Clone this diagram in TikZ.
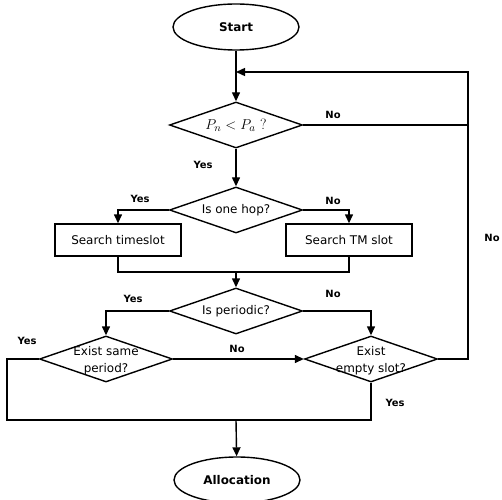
\documentclass[tikz,border=0pt]{standalone}
\usepackage{fontspec}
\setsansfont{DejaVu Sans}
\usetikzlibrary{shapes.geometric,arrows.meta}
\begin{document}
\begin{tikzpicture}[x=1bp,y=-1bp,
  line width=1.4bp,
  every node/.style={font=\sffamily\fontsize{12}{17}\selectfont},
  term/.style={draw,ellipse,minimum width=126bp,minimum height=46bp,inner sep=0pt,font=\sffamily\bfseries\fontsize{12}{14}\selectfont},
  proc/.style={draw,rectangle,minimum width=126bp,minimum height=32bp,inner sep=0pt},
  dec/.style={draw,diamond,minimum width=133bp,minimum height=46bp,inner sep=0pt},
  lab/.style={font=\sffamily\bfseries\fontsize{10}{12}\selectfont,inner sep=0pt},
  arr/.style={-{Triangle[length=9bp,width=8bp]}},
  ]
\useasboundingbox (0,0) rectangle (502,500);
\node[term] (start) at (236,27) {Start};
\node[dec,label={center:{\rmfamily\fontsize{15}{17}\selectfont $P_n < P_a$ ?}}] (d1) at (236,125) {};
\node[dec,label={center:Is one hop?}] (d2) at (236,210) {};
\node[proc] (b1) at (118,240) {Search timeslot};
\node[proc] (b2) at (349,240) {Search TM slot};
\node[dec,label={center:Is periodic?}] (d3) at (236,311) {};
\node[dec,label={[align=center,yshift=-2bp]center:Exist same\\period?}] (d4) at (106,359) {};
\node[dec,label={[align=center,yshift=-2bp]center:Exist\\empty slot?}] (d5) at (371,359) {};
\node[term] (alloc) at (237,480) {Allocation};

\coordinate (loopin) at (236,72);
\coordinate (loopc) at (468,72);
\coordinate (m1) at (236,272);
\coordinate (m2) at (236,420);
\coordinate (lft) at (7,359);

\draw[arr] (start) -- (d1);
\draw[arr] (d1) -- (d2);
\draw[arr] (d2.west) -| (b1.north);
\draw[arr] (d2.east) -| (b2.north);
\draw (b1.south) |- (m1);
\draw (b2.south) |- (m1);
\draw[arr] (m1) -- (d3);
\draw[arr] (d3.west) -| (d4.north);
\draw[arr] (d3.east) -| (d5.north);
\draw[arr] (d4.east) -- (d5.west);
\draw[arr] (d5.east) -| (loopc) -- (loopin);
\draw (d1.east) -- (d1.east -| loopc);
\draw (d4.west) -- (lft) |- (m2);
\draw (d5.south) |- (m2);
\draw[arr] (m2) -- (alloc);

\node[lab] at (333,115) {No};
\node[lab] at (203,165) {Yes};
\node[lab] at (140,199) {Yes};
\node[lab] at (333,201) {No};
\node[lab] at (133,299) {Yes};
\node[lab] at (333,294) {No};
\node[lab] at (492,238) {No};
\node[lab] at (27,341) {Yes};
\node[lab] at (237,349) {No};
\node[lab] at (395,403) {Yes};
\end{tikzpicture}
\end{document}
